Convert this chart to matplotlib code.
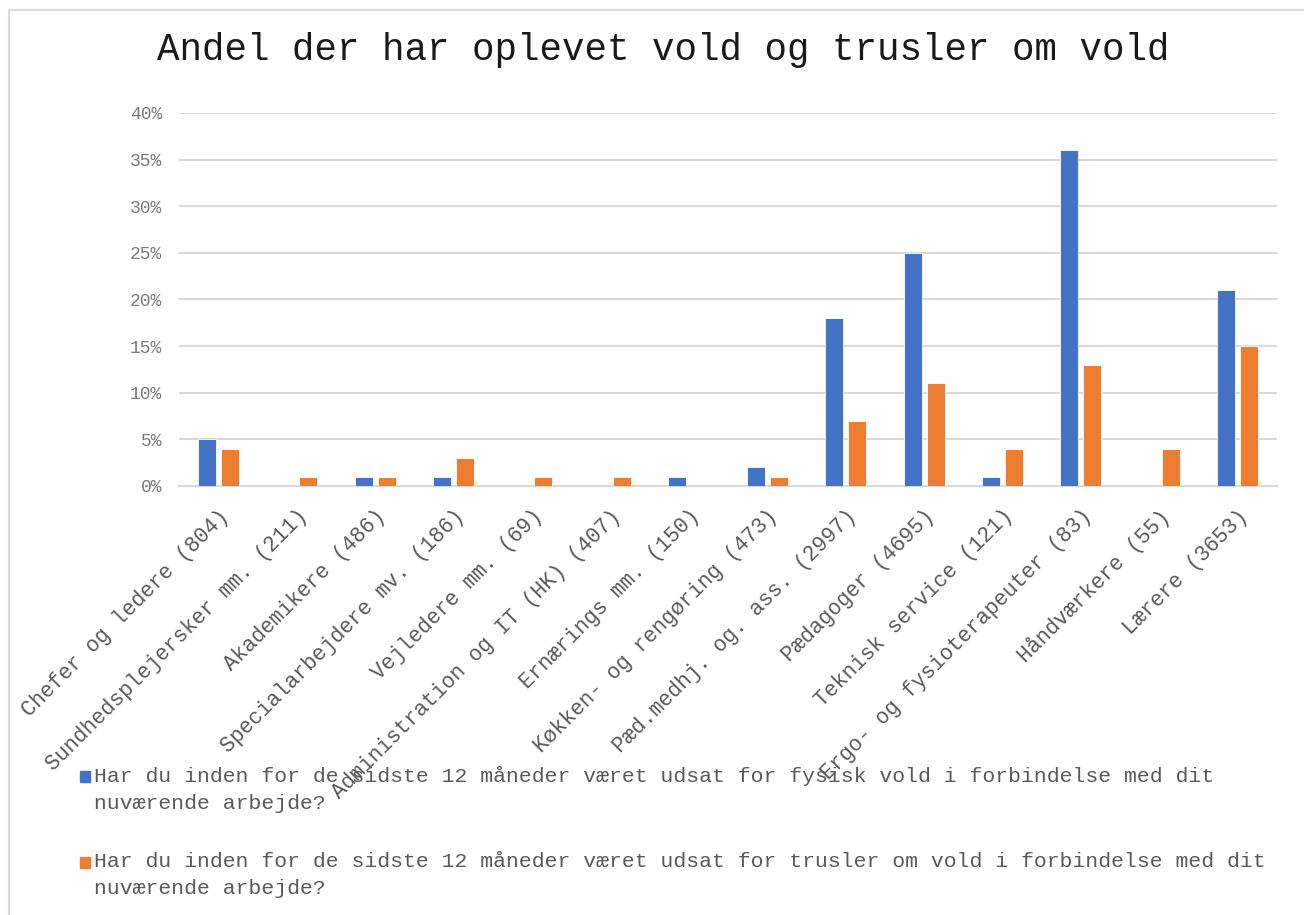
import matplotlib.pyplot as plt
import numpy as np
from matplotlib.patches import Rectangle

plt.rcParams['font.family'] = ['Liberation Mono', 'DejaVu Sans Mono']

# Data
categories = ['Chefer og ledere (804)', 'Sundhedsplejersker mm. (211)', 'Akademikere (486)',
              'Specialarbejdere mv. (186)', 'Vejledere mm. (69)', 'Administration og IT (HK) (407)',
              'Ernærings mm. (150)', 'Køkken- og rengøring (473)', 'Pæd.medhj. og. ass. (2997)',
              'Pædagoger (4695)', 'Teknisk service (121)', 'Ergo- og fysioterapeuter (83)',
              'Håndværkere (55)', 'Lærere (3653)']
fysisk_vold = [5, 0, 1, 1, 0, 0, 1, 2, 18, 25, 1, 36, 0, 21]
trusler = [4, 1, 1, 3, 1, 1, 0, 1, 7, 11, 4, 13, 4, 15]
series_labels = ['Har du inden for de sidste 12 måneder været udsat for fysisk vold i forbindelse med dit\nnuværende arbejde?',
                 'Har du inden for de sidste 12 måneder været udsat for trusler om vold i forbindelse med dit\nnuværende arbejde?']
colors = ['#4472C4', '#ED7D31']

W, H = 1304, 915
fig = plt.figure(figsize=(W / 100, H / 100), dpi=100)
ax = fig.add_axes([179 / W, 1 - 486 / H, 1098 / W, 373 / H])

x = np.arange(len(categories))
w = 0.23
ax.bar(x - 0.147, fysisk_vold, w, color=colors[0], edgecolor='white', linewidth=0.6, zorder=3)
ax.bar(x + 0.147, trusler, w, color=colors[1], edgecolor='white', linewidth=0.6, zorder=3)

ax.set_xlim(-0.5, len(categories) - 0.5)
ax.set_ylim(0, 40)
ax.set_yticks(range(0, 41, 5))
ax.set_yticklabels([f'{v}%' for v in range(0, 41, 5)], fontsize=13, color='#7a7a7a')
ax.yaxis.grid(True, color='#D9D9D9', linewidth=1.5, zorder=0)
ax.tick_params(axis='both', length=0)
ax.tick_params(axis='y', pad=12)

for s in ['top', 'right', 'left']:
    ax.spines[s].set_visible(False)
ax.spines['bottom'].set_color('#D9D9D9')
ax.spines['bottom'].set_linewidth(1.5)

ax.set_xticks(x)
ax.set_xticklabels(categories, rotation=45, ha='right', va='top', rotation_mode='anchor',
                   fontsize=15.5, color='#595959')
ax.tick_params(axis='x', pad=14)

# Title
fig.text(663 / W, 1 - 50 / H, 'Andel der har oplevet vold og trusler om vold',
         ha='center', va='center', fontsize=27, color='#1a1a1a')

# Legend (bottom, manual)
leg_y = [777, 863]
for lab, col, yy in zip(series_labels, colors, leg_y):
    fig.patches.append(Rectangle((80 / W, 1 - (yy + 5) / H), 10 / W, 11 / H,
                                 transform=fig.transFigure, color=col))
    fig.text(94 / W, 1 - (yy - 11) / H, lab, ha='left', va='top', fontsize=15.4,
             color='#595959', linespacing=1.5)

# Chart border
fig.patches.append(Rectangle((9 / W, -0.05), 1.1, 1 - 10 / H + 0.05, transform=fig.transFigure,
                             fill=False, edgecolor='#D9D9D9', linewidth=1.5))

fig.savefig('out.png', dpi=100)
